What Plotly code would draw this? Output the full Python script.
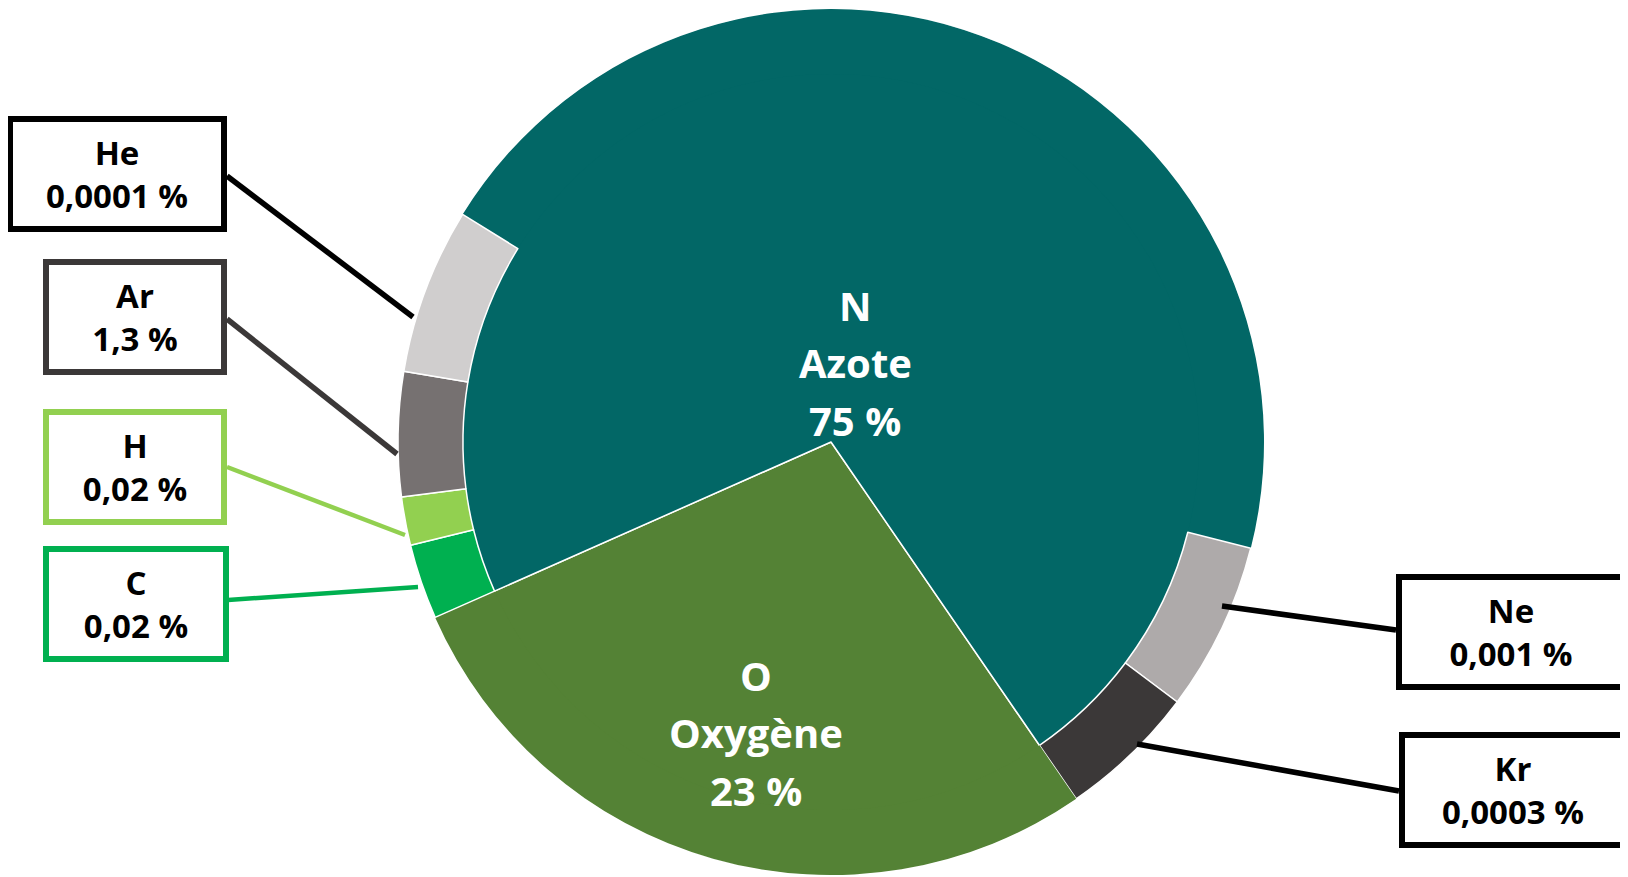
import plotly.graph_objects as go

# ---- data ----
elements = ["N", "Ne", "Kr", "O", "C", "H", "Ar", "He"]
names = ["Azote", "", "", "Oxygène", "", "", "", ""]
pct_labels = ["75 %", "0,001 %", "0,0003 %", "23 %", "0,02 %", "0,02 %", "1,3 %", "0,0001 %"]
# slices are drawn at display sizes (degrees of rim), not at true proportions
slice_weights = [162.5, 22.7, 18.6, 100.6, 10.1, 6.5, 16.7, 22.3]
slice_colors = ["#026766", "#aeaaaa", "#3b3838", "#548235", "#00b050", "#92d050", "#767171", "#d0cece"]
box_colors = ["#ffffff", "#000000", "#000000", "#ffffff", "#00b050", "#92d050", "#3b3838", "#000000"]
major = ["N", "O"]

# page geometry (the html body adds an 8px offset)
OFF = 8
W, H = 1620, 869
FONT = "Open Sans"


def px(x, y):
    """reference page pixels -> paper fraction"""
    return (x - OFF) / W, 1 - (y - OFF) / H


# pie circle in page pixels: left 398, right 1264, top 8, bottom 876
dom = dict(x=[(398 - OFF) / W, (1264 - OFF) / W], y=[1 - (876 - OFF) / H, 1.0])
rot = -58.3

# interior: only the two major components are visible (O wedge + N everywhere else)
iO = elements.index("O")
base_labels = ["O", "N"]
base_values = [slice_weights[iO], sum(slice_weights) - slice_weights[iO]]
base_rot = rot + sum(slice_weights[:iO])

fig = go.Figure()
fig.add_trace(go.Pie(
    labels=base_labels, values=base_values, sort=False, direction="clockwise", rotation=base_rot,
    marker=dict(colors=[slice_colors[iO], slice_colors[0]], line=dict(color="#ffffff", width=1.5)),
    textinfo="none", textposition="none", hoverinfo="skip",
    domain=dom, showlegend=False,
))
# outer ring: minor components as slivers on the rim
ring_line_w = [0 if e in major else 1.5 for e in elements]
fig.add_trace(go.Pie(
    labels=elements, values=slice_weights, sort=False, direction="clockwise", rotation=rot,
    hole=0.85,
    marker=dict(colors=slice_colors, line=dict(color="#ffffff", width=ring_line_w)),
    textinfo="none", textposition="none", hoverinfo="label",
    domain=dom, showlegend=False,
))

annotations = []
shapes = []

# big inside labels (N, O): centre x, first line y, line step (page px)
inside_pos = {"N": (855, 305, 57.5), "O": (756, 675, 57.5)}
# boxed labels: center (px), outer width, leader line start/end (px), line width
box_layout = {
    "He": ((117, 174), 220, (227, 176), (413, 317), 5.5),
    "Ar": ((135, 317), 184, (227, 319), (397, 454), 5.5),
    "H":  ((135, 467), 184, (227, 467), (405, 535), 4.5),
    "C":  ((136, 604), 186, (228, 600), (418, 587), 4.5),
    "Ne": ((1511, 632), 230, (1396, 630), (1222, 606), 5.5),
    "Kr": ((1513, 790), 228, (1399, 791), (1137, 744), 5.5),
}

for i, el in enumerate(elements):
    if el in inside_pos:
        cx, y0, step = inside_pos[el]
        for k, line in enumerate([el, names[i], pct_labels[i]]):
            x, y = px(cx, y0 + k * step)
            annotations.append(dict(
                x=x, y=y, xref="paper", yref="paper", xanchor="center", yanchor="middle",
                text=line, showarrow=False,
                font=dict(family=FONT, size=40, color="#ffffff", weight=700),
            ))
    else:
        (cx, cy), ow, p0, p1, lw = box_layout[el]
        x, y = px(cx, cy)
        bw = 6
        annotations.append(dict(
            x=x, y=y, xref="paper", yref="paper", xanchor="center", yanchor="middle",
            text=f"{el}<br>{pct_labels[i]}", showarrow=False,
            font=dict(family=FONT, size=33, color="#000000", weight=700), align="center",
            width=ow - 2 * bw, height=116 - 2 * bw, borderpad=0,
            bordercolor=box_colors[i], borderwidth=bw, bgcolor="#ffffff",
        ))
        x0, y0 = px(*p0)
        x1, y1 = px(*p1)
        shapes.append(dict(type="line", xref="paper", yref="paper", x0=x0, y0=y0, x1=x1, y1=y1,
                           line=dict(color=box_colors[i], width=lw), layer="above"))

fig.update_layout(
    width=W, height=H,
    margin=dict(l=0, r=0, t=0, b=0),
    paper_bgcolor="#ffffff", plot_bgcolor="#ffffff",
    annotations=annotations, shapes=shapes,
    font=dict(family=FONT),
)

fig.write_html("out.html")
